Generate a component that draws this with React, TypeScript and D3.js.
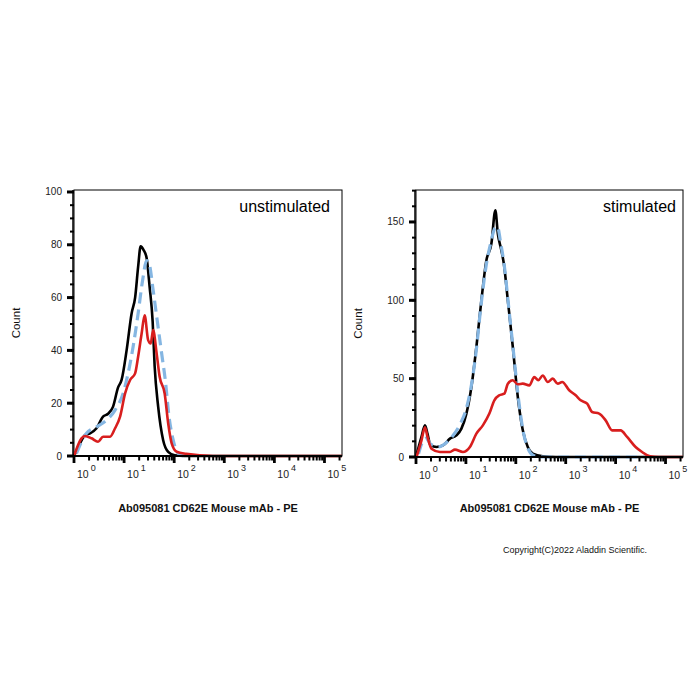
import React, { useEffect, useRef } from "react";
import * as d3 from "d3";

// each point: [log10 of PE intensity, count]
const unstimBlack = [[0, 0], [0.1, 4], [0.22, 7.9], [0.32, 8.6], [0.45, 10.5], [0.58, 14.9], [0.68, 16], [0.78, 18.7], [0.88, 26], [0.95, 28.8], [1.05, 40], [1.15, 54], [1.22, 60], [1.28, 71.6], [1.33, 79.4], [1.39, 78], [1.45, 75], [1.51, 64], [1.57, 51], [1.61, 34], [1.68, 18.7], [1.78, 6], [1.88, 1.6], [2.01, 0.3], [2.2, 0], [5.35, 0]];
const unstimRed = [[0, 0], [0.15, 6.7], [0.22, 7.6], [0.35, 6.7], [0.48, 5.4], [0.58, 7.3], [0.72, 7.3], [0.82, 10.5], [0.92, 14.9], [1.02, 23.7], [1.12, 28.8], [1.22, 31.3], [1.28, 37.6], [1.35, 46.4], [1.41, 53.3], [1.48, 43.9], [1.53, 42.6], [1.58, 47.7], [1.65, 38.8], [1.71, 30], [1.81, 23.7], [1.88, 12.4], [1.95, 4.8], [2.05, 1.6], [2.24, 0.8], [2.51, 0.3], [2.84, 0], [5.35, 0]];
const unstimBlue = [[0.05, 1], [0.25, 8.6], [0.45, 11], [0.65, 13.6], [0.82, 17.4], [0.98, 23.7], [1.08, 31.3], [1.18, 41.4], [1.28, 54], [1.37, 66.6], [1.45, 74], [1.5, 72.9], [1.58, 62.8], [1.66, 51.5], [1.75, 38.8], [1.83, 27.5], [1.89, 16], [1.98, 6], [2.08, 1], [2.18, 0]];

const stimBlack = [[0, 0], [0.11, 12.8], [0.18, 20.2], [0.23, 14.9], [0.29, 7.4], [0.41, 6.4], [0.54, 7.4], [0.68, 11.7], [0.81, 13.8], [0.91, 18.1], [1.01, 27.7], [1.11, 44.7], [1.21, 70.2], [1.31, 100], [1.41, 125.5], [1.51, 136], [1.59, 157.4], [1.64, 142.5], [1.71, 132], [1.76, 123.4], [1.84, 100], [1.94, 70.2], [2.04, 38.3], [2.14, 17], [2.24, 6.4], [2.34, 2.1], [2.54, 0.4], [2.8, 0], [5.35, 0]];
const stimRed = [[0.01, 0], [0.11, 10.6], [0.18, 19], [0.23, 12.8], [0.31, 5.3], [0.48, 3.2], [0.68, 3.2], [0.78, 4.7], [0.94, 3.2], [1.08, 6.4], [1.21, 14.9], [1.34, 20.2], [1.47, 27.7], [1.57, 36.2], [1.67, 39.4], [1.77, 40.4], [1.84, 46.8], [1.94, 49], [2.04, 46.4], [2.14, 46.8], [2.27, 45.7], [2.37, 51], [2.45, 49], [2.54, 52], [2.64, 47.9], [2.74, 50], [2.84, 46.8], [2.93, 47.9], [3.07, 42.6], [3.2, 39.4], [3.3, 36.2], [3.43, 34], [3.53, 28.7], [3.67, 27.7], [3.8, 23.4], [3.93, 17], [4.1, 17], [4.23, 12.8], [4.4, 6.4], [4.53, 3.2], [4.69, 0.4], [4.86, 0], [5.35, 0]];
const stimBlue = [[0.05, 2], [0.12, 9], [0.2, 12], [0.3, 8], [0.45, 6.5], [0.6, 9], [0.75, 14], [0.9, 22], [1.0, 30], [1.1, 44], [1.2, 66], [1.3, 96], [1.4, 121], [1.5, 137], [1.58, 146], [1.63, 147], [1.7, 136], [1.77, 122], [1.85, 98], [1.95, 68], [2.05, 38], [2.15, 16], [2.25, 5], [2.35, 1], [2.5, 0], [4.6, 0]];

const decades = [0, 1, 2, 3, 4, 5];
const unstimYTicks = [0, 20, 40, 60, 80, 100];
const stimYTicks = [0, 50, 100, 150];

const xTitle = "Ab095081 CD62E Mouse mAb - PE";
const FONT = "'Liberation Sans', Arial, sans-serif";
const RED = "#d81e1e";
const BLUE = "#85b6e2";

function drawPanel(svg, opts) {
    const { left, right, top, bottom, yMax, yTicks, yMinorStep, label, labelPad, black, red, blue } = opts;

    const x = d3.scaleLog().domain([1, Math.pow(10, 5.35)]).range([left, right]);
    const y = d3.scaleLinear().domain([0, yMax]).range([bottom, top]);

    const g = svg.append("g");

    // frame
    g.append("rect")
        .attr("x", left).attr("y", top)
        .attr("width", right - left).attr("height", bottom - top)
        .attr("fill", "none").attr("stroke", "#000").attr("stroke-width", 1);

    const line = d3.line()
        .x(d => x(Math.pow(10, d[0])))
        .y(d => y(d[1]))
        .curve(d3.curveMonotoneX);

    // histograms: black, then dashed isotype, then red on top
    g.append("path").datum(black).attr("d", line)
        .attr("fill", "none").attr("stroke", "#000").attr("stroke-width", 2.6);
    g.append("path").datum(blue).attr("d", line)
        .attr("fill", "none").attr("stroke", BLUE).attr("stroke-width", 3.2)
        .attr("stroke-dasharray", "11,6");
    g.append("path").datum(red).attr("d", line)
        .attr("fill", "none").attr("stroke", RED).attr("stroke-width", 2.6);

    // bottom axis
    g.append("line").attr("x1", left).attr("x2", right).attr("y1", bottom).attr("y2", bottom)
        .attr("stroke", "#000").attr("stroke-width", 2);
    // left axis
    g.append("line").attr("x1", left - 1).attr("x2", left - 1).attr("y1", top).attr("y2", bottom)
        .attr("stroke", "#000").attr("stroke-width", 1.5);

    // x ticks
    decades.forEach(d => {
        const px = x(Math.pow(10, d));
        g.append("line").attr("x1", px).attr("x2", px).attr("y1", bottom).attr("y2", bottom + 7)
            .attr("stroke", "#000").attr("stroke-width", 2.8);
        for (let k = 2; k <= 9; k++) {
            const v = k * Math.pow(10, d);
            if (v > x.domain()[1]) break;
            g.append("line").attr("x1", x(v)).attr("x2", x(v)).attr("y1", bottom).attr("y2", bottom + 4.5)
                .attr("stroke", "#000").attr("stroke-width", 2);
        }
        const t = g.append("text")
            .attr("x", px + 3).attr("y", bottom + 22)
            .attr("font-family", FONT).attr("font-size", 10.5).attr("fill", "#222");
        t.append("tspan").text("10");
        t.append("tspan").attr("dx", 2).attr("dy", -7).attr("font-size", 9).text(d);
    });

    // y ticks
    for (let v = 0; v <= yMax; v += yMinorStep) {
        g.append("line").attr("x1", left - 4).attr("x2", left).attr("y1", y(v)).attr("y2", y(v))
            .attr("stroke", "#000").attr("stroke-width", 2);
    }
    yTicks.forEach(v => {
        g.append("line").attr("x1", left - 7).attr("x2", left).attr("y1", y(v)).attr("y2", y(v))
            .attr("stroke", "#000").attr("stroke-width", 3);
        g.append("text").attr("x", left - 12).attr("y", y(v) + 3.5)
            .attr("text-anchor", "end").attr("font-family", FONT).attr("font-size", 10)
            .attr("fill", "#222").text(v);
    });

    // y title
    g.append("text")
        .attr("transform", `translate(${left - 54},${(top + bottom) / 2}) rotate(-90)`)
        .attr("text-anchor", "middle").attr("font-family", FONT).attr("font-size", 11.5)
        .attr("fill", "#111").text("Count");

    // x title
    g.append("text")
        .attr("x", (left + right) / 2).attr("y", 512)
        .attr("text-anchor", "middle").attr("font-family", FONT).attr("font-size", 11)
        .attr("font-weight", "bold").attr("fill", "#111").text(xTitle);

    // panel label
    g.append("text")
        .attr("x", right - labelPad).attr("y", 212)
        .attr("text-anchor", "end").attr("font-family", FONT).attr("font-size", 16)
        .attr("fill", "#000").text(label);
}

function App() {
    const ref = useRef(null);

    useEffect(() => {
        const svg = d3.select(ref.current);
        svg.selectAll("*").remove();

        svg.append("rect").attr("width", 700).attr("height", 700).attr("fill", "#fff");

        drawPanel(svg, {
            left: 74, right: 342, top: 190, bottom: 456,
            yMax: 100.75, yTicks: unstimYTicks, yMinorStep: 5,
            label: "unstimulated", labelPad: 12,
            black: unstimBlack, red: unstimRed, blue: unstimBlue
        });

        drawPanel(svg, {
            left: 416, right: 683, top: 190, bottom: 457,
            yMax: 170.4, yTicks: stimYTicks, yMinorStep: 10,
            label: "stimulated", labelPad: 7,
            black: stimBlack, red: stimRed, blue: stimBlue
        });

        svg.append("text")
            .attr("x", 503).attr("y", 553)
            .attr("font-family", FONT).attr("font-size", 9)
            .attr("fill", "#111").text("Copyright(C)2022 Aladdin Scientific.");
    }, []);

    return (
        <svg ref={ref} width={700} height={700} style={{ position: "absolute", left: 0, top: 0 }}></svg>
    );
}

export default App;
